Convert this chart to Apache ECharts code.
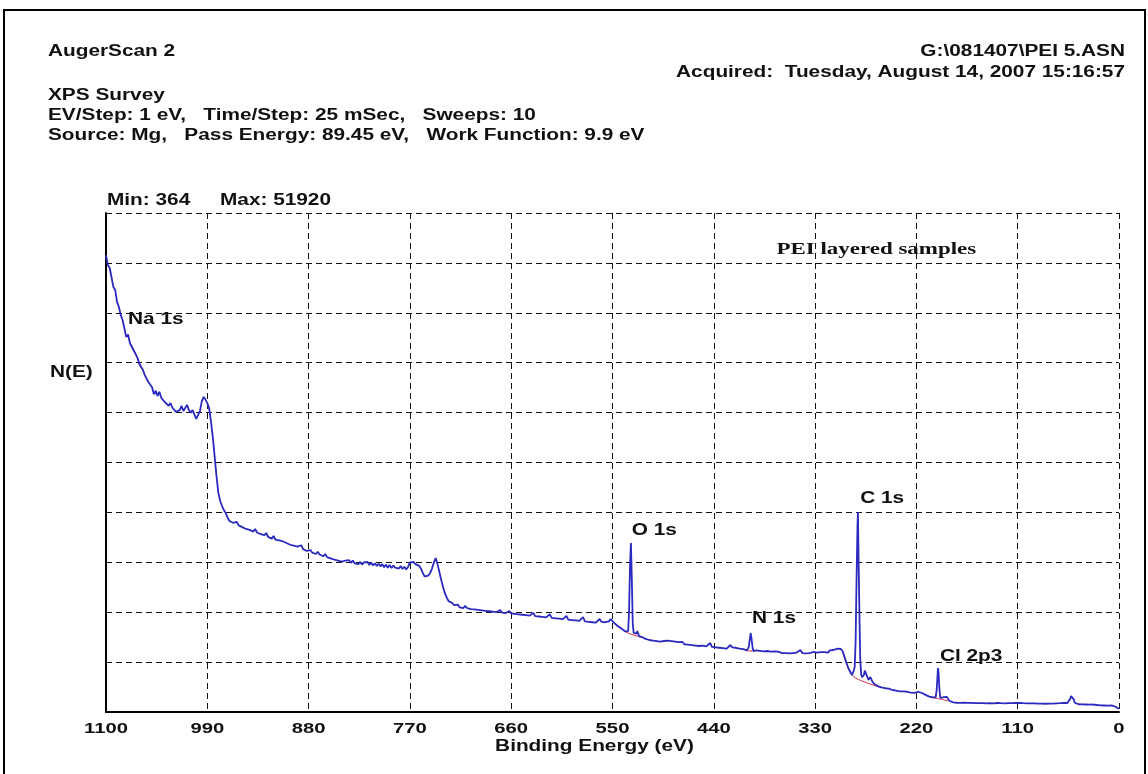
<!DOCTYPE html>
<html><head><meta charset="utf-8">
<script src="https://cdn.jsdelivr.net/npm/echarts@6/dist/echarts.min.js"></script>
<style>html,body{margin:0;padding:0;background:#fff}#c{width:1148px;height:774px}</style>
</head><body><div id="c"></div><script>
// ---- Data (binding energy in eV, intensity in counts) ----
const energy = [1100,1098,1096,1094,1092,1090,1088,1086,1084,1082,1080,1078,1076,1074,1072,1070,1068,1066,1064,1062,1060,1058,1056,1054,1052,1050,1048,1046,1044,1042,1040,1038,1036,1034,1032,1030,1028,1026,1024,1022,1020,1018,1016,1014,1012,1010,1008,1006,1004,1002,1000,998,996,994,992,990,988,986,984,982,980,978,976,974,972,970,968,966,964,962,960,958,956,954,952,950,948,946,944,942,940,938,936,934,932,930,928,926,924,922,920,918,916,914,912,910,908,906,904,902,900,898,896,894,892,890,888,886,884,882,880,878,876,874,872,870,868,866,864,862,860,858,856,854,852,850,848,846,844,842,840,838,836,834,832,830,828,826,824,822,820,818,816,814,812,810,808,806,804,802,800,798,796,794,792,790,788,786,784,782,780,778,776,774,772,770,768,766,764,762,760,758,756,754,752,750,748,746,744,742,740,738,736,734,732,730,728,726,724,722,720,718,716,714,712,710,708,706,704,702,700,698,696,694,692,690,688,686,684,682,680,678,676,674,672,670,668,666,664,662,660,658,656,654,652,650,648,646,644,642,640,638,636,634,632,630,628,626,624,622,620,618,616,614,612,610,608,606,604,602,600,598,596,594,592,590,588,586,584,582,580,578,576,574,572,570,568,566,564,562,560,558,556,554,552,550,548,546,544,542,540,538,536,534,533,532,531,530,529,528,527,526,525,524,523,522,521,520,518,516,514,512,510,508,506,504,502,500,498,496,494,492,490,488,486,484,482,480,478,476,474,472,470,468,466,464,462,460,458,456,454,452,450,448,446,444,442,440,438,436,434,432,430,428,426,424,422,420,418,416,414,412,410,408,406,404,402,401,400,399,398,397,396,394,392,390,388,386,384,382,380,378,376,374,372,370,368,366,364,362,360,358,356,354,352,350,348,346,344,342,340,338,336,334,332,330,328,326,324,322,320,318,316,314,312,310,308,306,304,302,300,298,296,294,292,290,288,287,286,285,284,283.5,283,282,281,280,279,278,277,276,275,274,273,272,271,270,269,268,266,264,262,260,258,256,254,252,250,248,246,244,242,240,238,236,234,232,230,228,226,224,222,220,218,216,214,212,210,208,206,204,202,200,199,198,197,196.6,196,195,194,192,190,188,187,186,184,182,180,178,176,174,172,170,168,166,164,162,160,158,156,154,152,150,148,146,144,142,140,138,136,134,132,130,128,126,124,122,120,118,116,114,112,110,108,106,104,102,100,98,96,94,92,90,88,86,84,82,80,78,76,74,72,70,68,66,64,62,60,58,56,54,53,52,51,50,49,48,47,46,44,42,40,38,36,34,32,30,28,26,24,22,20,18,16,14,12,10,8,6.5,5,4,3,2,1,0];
const counts = [51920,50800,50450,49400,48300,47950,46600,46020,45100,44540,43600,42600,42900,41900,41930,41100,41300,40300,39600,39200,38900,38300,38200,37500,37400,36900,36100,36500,35900,36400,35700,35800,35200,35400,34800,35100,34600,34500,34100,33970,34300,34800,34200,34000,34900,34300,34000,34300,33800,33300,33180,34200,35300,35800,35500,35100,34500,33000,31200,29000,26800,24900,24000,23400,22950,22600,22100,21700,21900,21500,21300,21600,21200,21400,21000,21200,20800,21000,20700,20900,20500,20800,20400,20600,20200,20400,20100,20340,19900,20100,19700,20000,19600,19800,19500,19700,19400,19600,19200,19400,19000,19200,18900,19100,18800,18750,18950,18500,18700,18300,18500,18400,18100,18300,17950,18200,17900,18050,17700,17950,17600,17800,17450,17600,17300,17500,17200,17400,17100,17300,17200,17000,17250,16950,17200,16900,17100,16800,17050,16750,17000,16800,17044,16700,16950,16650,16900,16600,16850,16550,16800,16450,16750,16400,16700,16350,16650,16400,16600,16300,16590,16250,16500,16200,16476,17000,16900,17044,16800,16950,16600,16300,15800,15400,15340,15500,15800,16300,17000,17500,16800,15900,15000,14200,13500,13000,12600,12400,12386,12150,12000,12200,11900,12100,11800,12050,11817,11950,11700,11900,11650,11850,11600,11800,11550,11750,11500,11700,11450,11650,11400,11600,11350,11550,11590,11300,11500,11250,11450,11476,11200,11400,11150,11350,11100,11300,11050,11250,11000,11200,10950,11150,11249,10900,11100,10850,11050,10800,11000,10750,10950,11100,10700,10900,10650,10850,10600,10800,10550,10750,10908,10500,10700,10450,10650,10400,10600,10350,10550,10795,10300,10500,10250,10450,10200,10400,10150,10350,10568,10250,10450,10200,10400,10300,10568,10350,10100,9886,9750,9600,9450,9318,9150,9090,9200,11500,16500,19203,15000,10000,8977,8800,8750,8900,9204,8900,8600,8700,8522,8400,8300,8350,8181,8300,8100,8250,8050,8200,8000,8150,8068,7950,8100,7900,8050,7850,8000,7800,7950,7750,7954,7700,7900,7650,7850,7600,7800,7550,7750,7500,7727,7550,7700,7450,7650,7841,7400,7600,7350,7550,7300,7500,7250,7450,7200,7400,7613,7350,7150,7300,7100,7200,7000,7150,7045,7000,7400,8200,8977,8300,7400,6931,6850,7000,6800,6950,6750,6900,6800,6931,6750,6850,6700,6900,6750,6850,6818,6700,6850,6700,6800,6650,6800,6700,6900,6750,6850,7045,6700,6850,6650,6800,6700,6850,6818,6950,6750,6704,6800,6650,6800,6900,6750,7000,7100,7045,6950,7200,7100,7159,6900,6250,5600,5000,4600,4204,4700,5113,8000,15000,21000,22726,19000,12000,6000,4300,3950,3863,4200,4700,4886,4500,3900,3636,3800,3977,3900,3500,3200,3068,2950,2850,2800,2727,2700,2600,2650,2550,2500,2450,2420,2386,2350,2300,2340,2280,2300,2250,2200,2240,2180,2250,2300,2200,2159,2100,1950,1800,1750,1704,1650,1620,1700,2500,4200,5000,4500,2600,1591,1650,1700,1750,1704,1500,1250,1136,1100,1080,1050,1100,1040,1023,1060,1000,1040,990,1030,980,1000,960,1010,970,1000,950,990,960,1000,960,990,950,1023,970,1000,950,990,960,1000,960,1000,970,1020,990,1023,960,1000,950,990,940,980,930,970,920,960,910,950,900,940,909,950,900,960,920,980,940,1000,960,1023,980,1023,1150,1500,1800,1932,1800,1400,1050,950,909,880,900,860,880,850,870,830,820,850,810,795,830,760,800,740,780,720,700,740,682,650,700,560,480,420,364];
// background (peak baseline) segments, null = gap
const bgEnergy = [1075,1070,1065,1061,1060, 542,538,534,530,526,522,518,517, 406,402,398,397, 300,296,292,289,286,283,280,276,272,268,264,258,257, 205,201,197,193,189,186];
const bgCounts = [42200,41200,40000,39100,null, 9700,9250,9000,8850,8700,8600,8450,null, 7000,6950,6900,null, 6700,5500,4500,4100,3850,3700,3550,3400,3250,3100,2950,2780,null, 1750,1600,1520,1450,1350,1250];
// peak annotations (anchor = left/middle of text, in data units)
const peakNames = ['Na 1s','O 1s','N 1s','C 1s','Cl 2p3'];
const peakLabelE = [1076,529,398.5,281,194.4];
const peakLabelC = [44540,20570,10570,24200,6250];
const sampleNote = 'PEI layered samples';
const sampleNoteE = 372, sampleNoteC = 52500;
// axis ticks and header texts
const xTicks = [1100,990,880,770,660,550,440,330,220,110,0];
const headerLeft = ['AugerScan 2','XPS Survey','EV/Step: 1 eV,   Time/Step: 25 mSec,   Sweeps: 10','Source: Mg,   Pass Energy: 89.45 eV,   Work Function: 9.9 eV'];
const headerRight = ['G:\\081407\\PEI 5.ASN','Acquired:  Tuesday, August 14, 2007 15:16:57'];
const minMax = ['Min: 364','Max: 51920'];
const yName = 'N(E)';
const xName = 'Binding Energy (eV)';
const xMin = 0, xMax = 1100, xStep = 110;
const yMin = 0, yMax = 56700, yStep = 5670;

const chart = echarts.init(document.getElementById('c'), null, {renderer:'canvas'});
const FONT = '"Liberation Sans", Arial, sans-serif';
const SERIF = '"Liberation Serif", "Times New Roman", serif';
const SX = 1.3; // horizontal stretch of the original scan's lettering
const txt = (x, y, s, align, size, family, sx) => ({
  type:'text', x, y, scaleX: sx || SX, scaleY: 1, silent:true, z:10,
  style:{text:s, fill:'#111', font:'bold ' + (size||16) + 'px ' + (family||FONT),
         textAlign:align||'left', textVerticalAlign:'middle'}
});

const mainData = energy.map((e,i)=>[e, counts[i]]);
const bgData = bgEnergy.map((e,i)=>[e, bgCounts[i]===null ? '-' : bgCounts[i]]);

chart.setOption({
  animation:false,
  backgroundColor:'#fff',
  grid:{left:106, right:29, top:213, bottom:62, containLabel:false},
  xAxis:{
    type:'value', min:xMin, max:xMax, interval:xStep, inverse:true,
    axisLine:{show:true, onZero:false, lineStyle:{color:'#000', width:2}},
    axisTick:{show:false}, axisLabel:{show:false},
    splitLine:{show:true, lineStyle:{color:'#111', width:1, type:[6,4]}}
  },
  yAxis:{
    type:'value', min:yMin, max:yMax, interval:yStep,
    axisLine:{show:true, onZero:false, lineStyle:{color:'#000', width:2}},
    axisTick:{show:false}, axisLabel:{show:false},
    splitLine:{show:true, lineStyle:{color:'#111', width:1, type:[6,4]}}
  },
  series:[
    {type:'line', data:mainData, showSymbol:false, symbol:'none', clip:true,
     lineStyle:{color:'#2a2ac0', width:1.8}, z:3},
    {type:'line', data:bgData, showSymbol:false, symbol:'none', connectNulls:false,
     lineStyle:{color:'#d0304a', width:1}, z:2}
  ]
});

const px = (e, c) => chart.convertToPixel({gridIndex:0}, [e, c]);
const graphics = [
  {type:'rect', shape:{x:4, y:10, width:1141, height:800}, style:{fill:null, stroke:'#000', lineWidth:2}, silent:true}
];
const leftY = [52, 96, 116, 136];
const rightY = [52, 73];
headerLeft.forEach((s,i)=>graphics.push(txt(48, leftY[i], s, 'left')));
headerRight.forEach((s,i)=>graphics.push(txt(1125, rightY[i], s, 'right')));
const topLeft = px(xMax, yMax);
graphics.push(txt(topLeft[0] + 1, topLeft[1] - 12, minMax[0], 'left'));
graphics.push(txt(topLeft[0] + 114, topLeft[1] - 12, minMax[1], 'left'));
graphics.push(txt(50, 373, yName, 'left'));
// x tick labels
xTicks.forEach(t => {
  const p = px(t, yMin);
  graphics.push(txt(p[0], p[1] + 17, String(t), 'center', 15, FONT, 1.35));
});
const mid = px((xMin + xMax) / 2, yMin);
graphics.push(txt(mid[0] - 18, mid[1] + 35, xName, 'center', 16));
// peak annotations
peakNames.forEach((n,i) => {
  const p = px(peakLabelE[i], peakLabelC[i]);
  graphics.push(txt(p[0], p[1], n, 'left', 16));
});
const sp = px(sampleNoteE, sampleNoteC);
graphics.push(txt(sp[0], sp[1], sampleNote, 'left', 17, SERIF, 1.35));
chart.setOption({graphic: graphics});
</script></body></html>
